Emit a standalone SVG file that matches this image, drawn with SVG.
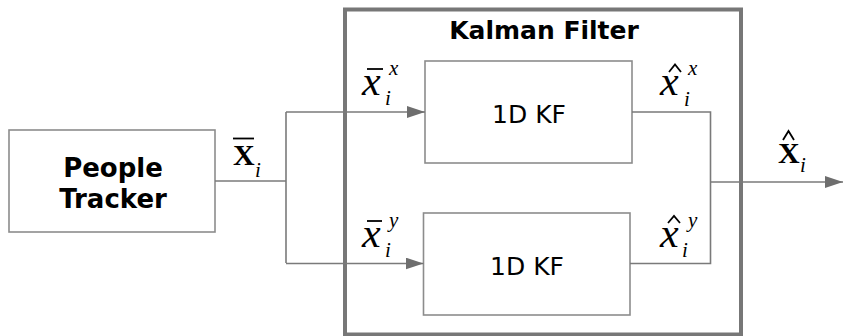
<svg xmlns="http://www.w3.org/2000/svg" width="843" height="336" viewBox="0 0 843 336">
<defs>
<style>
.box{fill:#fff;stroke:#8c8c8c;stroke-width:1.6}
.outer{fill:none;stroke:#777;stroke-width:4}
.conn{fill:none;stroke:#7a7a7a;stroke-width:1.6}
.lbl{font-family:"DejaVu Sans","Verdana",sans-serif;fill:#000;text-anchor:middle}
.bold{font-weight:bold}
.math{font-family:"Liberation Serif","Times New Roman",serif;fill:#000}
.it{font-style:italic}
.acc{fill:none;stroke:#000;stroke-width:1.8}
</style>
<marker id="arr" viewBox="0 0 18 12" refX="18" refY="6" markerWidth="18" markerHeight="12" markerUnits="userSpaceOnUse" orient="auto">
<path d="M0,0 L18,6 L0,12 Z" fill="#6e6e6e"/>
</marker>
</defs>
<rect width="843" height="336" fill="#fff"/>
<g id="kalman-filter">
<rect class="outer" x="345" y="9.5" width="396" height="325"/>
<text class="lbl bold" x="544" y="38.5" font-size="25">Kalman Filter</text>
</g>
<g id="people-tracker">
<rect class="box" x="9" y="130" width="206" height="102"/>
<text class="lbl bold" x="113" y="177" font-size="26">People</text>
<text class="lbl bold" x="113" y="208" font-size="26">Tracker</text>
</g>
<g id="kf-x">
<rect class="box" x="425" y="61" width="207" height="102"/>
<text class="lbl" x="529" y="123" font-size="25">1D KF</text>
</g>
<g id="kf-y">
<rect class="box" x="423.5" y="213" width="206.5" height="102"/>
<text class="lbl" x="527" y="275" font-size="25">1D KF</text>
</g>
<g id="connectors">
<polyline class="conn" points="215,181 286,181"/>
<polyline class="conn" points="286,112 286,263"/>
<polyline class="conn" points="286,112 425,112" marker-end="url(#arr)"/>
<polyline class="conn" points="286,263.5 423.5,263.5" marker-end="url(#arr)"/>
<polyline class="conn" points="632,112 710.5,112 710.5,263.5 630,263.5"/>
<polyline class="conn" points="710.5,182 843,182" marker-end="url(#arr)"/>
</g>
<g id="labels">
<!-- X bar i -->
<line class="acc" x1="233" y1="138.5" x2="254" y2="138.5" stroke-width="2.2"/>
<text class="math" x="233" y="165" font-size="30" font-weight="bold">X</text>
<text class="math it" x="255" y="177" font-size="21">i</text>
<!-- x bar i x -->
<line class="acc" x1="367" y1="69" x2="383" y2="69"/>
<text class="math it" x="362" y="95" font-size="42">x</text>
<text class="math it" x="389" y="75" font-size="21">x</text>
<text class="math it" x="385" y="105" font-size="21">i</text>
<!-- x bar i y -->
<line class="acc" x1="367" y1="221" x2="382" y2="221"/>
<text class="math it" x="362" y="247" font-size="42">x</text>
<text class="math it" x="389" y="227" font-size="21">y</text>
<text class="math it" x="385" y="257" font-size="21">i</text>
<!-- x hat i x -->
<path class="acc" d="M669,72 L675,64.5 L681,72"/>
<text class="math it" x="660" y="95" font-size="42">x</text>
<text class="math it" x="688" y="75" font-size="21">x</text>
<text class="math it" x="684" y="106" font-size="21">i</text>
<!-- x hat i y -->
<path class="acc" d="M668,223 L674,216 L680,223"/>
<text class="math it" x="660" y="247" font-size="42">x</text>
<text class="math it" x="688" y="227" font-size="21">y</text>
<text class="math it" x="682" y="257" font-size="21">i</text>
<!-- X hat i -->
<path class="acc" d="M783,140 L788.5,131 L794,140"/>
<text class="math" x="778" y="163" font-size="30" font-weight="bold">X</text>
<text class="math it" x="800" y="172" font-size="21">i</text>
</g>
</svg>
